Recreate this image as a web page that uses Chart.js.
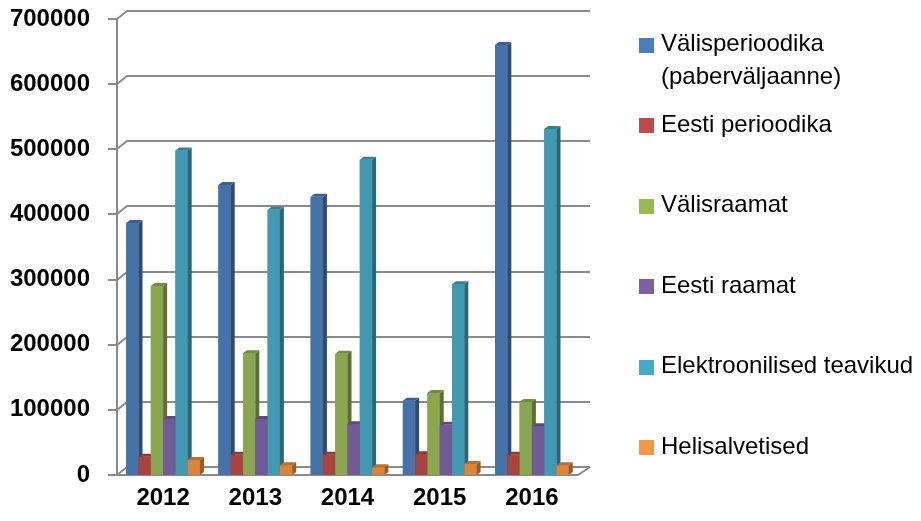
<!DOCTYPE html>
<html>
<head>
  <meta charset="utf-8">
  <script src="https://cdn.jsdelivr.net/npm/chart.js@4"></script>
  <style>
    html, body { margin: 0; padding: 0; background: #fff; }
    #wrap { width: 921px; height: 521px; }
  </style>
</head>
<body>
  <div id="wrap">
    <canvas id="myChart" width="921" height="521"></canvas>
  </div>
  <script>
    // data
    const years = ['2012', '2013', '2014', '2015', '2016']
    const valisperioodika = [387000, 445000, 427000, 114000, 660000]
    const eestiPerioodika = [28000, 31000, 31000, 32000, 31000]
    const valisraamat = [290000, 187000, 186000, 126000, 112000]
    const eestiRaamat = [86000, 86000, 78000, 77000, 75000]
    const elektroonilised = [498000, 407000, 484000, 293000, 531000]
    const helisalvetised = [23000, 15000, 12000, 17000, 15000]
    const yTicks = [0, 100000, 200000, 300000, 400000, 500000, 600000, 700000]
    const seriesNames = [
      ['Välisperioodika', '(paberväljaanne)'],
      ['Eesti perioodika'],
      ['Välisraamat'],
      ['Eesti raamat'],
      ['Elektroonilised teavikud'],
      ['Helisalvetised']
    ]

    const frontColors = ['#4573A8', '#A8433F', '#8AA650', '#725997', '#4299B1', '#DB843A']
    const sideColors = ['#2E4C72', '#73302E', '#5C6F34', '#4B3B60', '#2B6677', '#975A28']
    const topColors = ['#3A5F8C', '#8E3A38', '#728A41', '#5E4977', '#367F92', '#B86F33']
    const legendColors = ['#4A7EBB', '#BE4B48', '#98B954', '#7D60A0', '#46AAC5', '#F79646']

    const wallDx = 10, wallDy = -8   // depth of the back wall
    const barDx = 4, barDy = -3      // depth of each bar

    const threeD = {
      id: 'threeD',
      beforeDatasetsDraw(chart) {
        const { ctx, chartArea: a, scales: { y } } = chart
        ctx.save()
        ctx.strokeStyle = '#8a8a8a'
        ctx.lineWidth = 2
        yTicks.forEach(v => {
          const py = Math.round(y.getPixelForValue(v))
          ctx.beginPath()
          ctx.moveTo(a.left - 9, py)
          ctx.lineTo(a.left, py)
          ctx.lineTo(a.left + wallDx, py + wallDy)
          ctx.lineTo(a.right + wallDx + 2, py + wallDy)
          ctx.stroke()
        })
        // front axis and floor edge
        ctx.beginPath()
        ctx.moveTo(a.left, Math.round(y.getPixelForValue(700000)))
        ctx.lineTo(a.left, a.bottom)
        ctx.lineTo(a.right, a.bottom)
        ctx.lineTo(a.right + wallDx + 2, a.bottom + wallDy)
        ctx.stroke()
        ctx.restore()
      },
      afterDatasetsDraw(chart) {
        // redraw the bars dataset by dataset so each one covers the side of the one before
        const { ctx } = chart
        ctx.save()
        chart.data.datasets.forEach((ds, i) => {
          chart.getDatasetMeta(i).data.forEach(el => {
            const { x, y, base, width } = el.getProps(['x', 'y', 'base', 'width'], true)
            const l = x - width / 2, r = x + width / 2
            ctx.fillStyle = frontColors[i]
            ctx.fillRect(l, y, width, base - y)
            ctx.fillStyle = sideColors[i]
            ctx.beginPath()
            ctx.moveTo(r, y)
            ctx.lineTo(r + barDx, y + barDy)
            ctx.lineTo(r + barDx, base + barDy)
            ctx.lineTo(r, base)
            ctx.closePath()
            ctx.fill()
            ctx.fillStyle = topColors[i]
            ctx.beginPath()
            ctx.moveTo(l, y)
            ctx.lineTo(l + barDx, y + barDy)
            ctx.lineTo(r + barDx, y + barDy)
            ctx.lineTo(r, y)
            ctx.closePath()
            ctx.fill()
          })
        })
        ctx.restore()
      },
      afterDraw(chart) {
        const { ctx } = chart
        ctx.save()
        ctx.font = '24px "Liberation Sans", Arial, sans-serif'
        ctx.textBaseline = 'middle'
        seriesNames.forEach((lines, i) => {
          const cy = 44.5 + 80.5 * i
          ctx.fillStyle = legendColors[i]
          ctx.fillRect(639, Math.round(cy - 7), 15, 15)
          ctx.fillStyle = '#000'
          lines.forEach((t, k) => ctx.fillText(t, 661, cy + k * 33))
        })
        ctx.restore()
      }
    }

    const seriesData = [valisperioodika, eestiPerioodika, valisraamat, eestiRaamat, elektroonilised, helisalvetised]
    const tickFont = { family: '"Liberation Sans", Arial, sans-serif', size: 24, weight: 'bold', lineHeight: 1.2 }

    let ctx = document.getElementById('myChart').getContext('2d')
    let chart = new Chart(ctx, {
      type: 'bar',
      data: {
        labels: years,
        datasets: seriesData.map((d, i) => ({
          label: seriesNames[i].join(' '),
          data: d,
          backgroundColor: frontColors[i],
          borderWidth: 0,
          categoryPercentage: 0.8,
          barPercentage: 1.0
        }))
      },
      options: {
        responsive: false,
        animation: false,
        layout: { padding: { top: 19, right: 343, bottom: 0, left: 0 } },
        plugins: {
          legend: { display: false },
          tooltip: { enabled: false }
        },
        scales: {
          x: {
            grid: { display: false, drawTicks: true, tickLength: 9 },
            border: { display: false },
            ticks: { color: '#000', padding: 0, font: tickFont },
            afterFit(scale) { scale.height = 46 }
          },
          y: {
            min: 0,
            max: 700000,
            // the tick length only pushes the labels left; the marks themselves are drawn by the plugin
            grid: { display: false, drawTicks: true, tickLength: 27 },
            border: { display: false },
            afterBuildTicks(scale) { scale.ticks = yTicks.map(v => ({ value: v })) },
            ticks: { color: '#000', padding: 0, font: tickFont, callback: v => String(v) },
            afterFit(scale) { scale.width = 117 }
          }
        }
      },
      plugins: [threeD]
    })
  </script>
</body>
</html>
